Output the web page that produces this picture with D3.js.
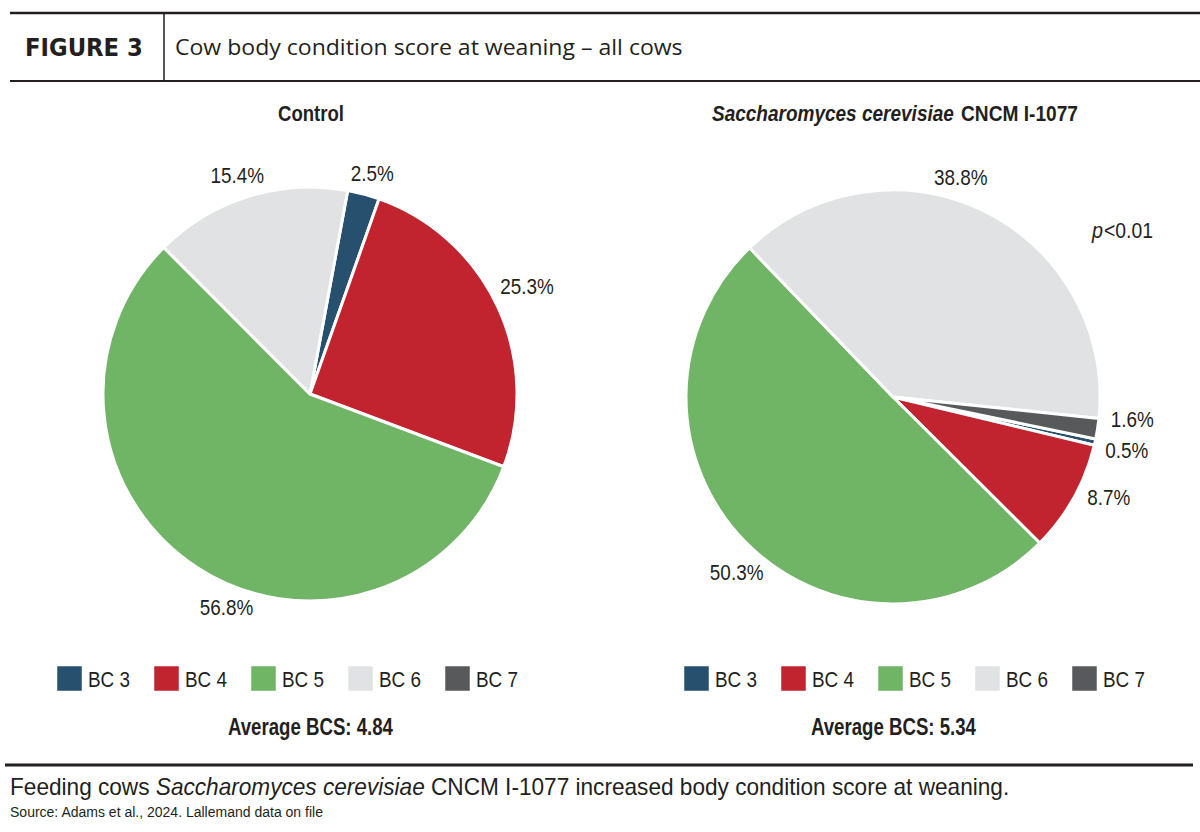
<!DOCTYPE html>
<meta charset="utf-8">
<style>
body { margin: 0; background: #fff; }
text { font-family: "Liberation Sans Narrow", "Arial Narrow", "Liberation Sans", sans-serif; fill: #231f20; }
.head { font-family: "DejaVu Sans Condensed", "DejaVu Sans", sans-serif; font-weight: bold; }
.sub { font-family: "Open Sans", sans-serif; }
</style>
<body>
<script src="https://d3js.org/d3.v7.min.js"></script>
<script>
// chart data
var categories = ["BC 3", "BC 4", "BC 5", "BC 6", "BC 7"];
var controlValues = [2.5, 25.3, 56.8, 15.4, 0];
var treatedValues = [0.5, 8.7, 50.3, 38.8, 1.6];
var averageBCS = ["4.84", "5.34"];

var colors = ["#26506e", "#c1232f", "#70b466", "#e1e2e4", "#58595b"];

var W = 1200, H = 832, r = 207;
var squeeze = 0.86; // fake a narrow face

var svg = d3.select("body").append("svg")
    .attr("width", W)
    .attr("height", H);

// put text at x,y squeezed horizontally (or fitted to a width)
function place(t, x, y, width) {
  var len = t.node().getComputedTextLength();
  var w = width || len * squeeze;
  t.attr("transform", "translate(" + x + "," + y + ") scale(" + (w / len) + ",1)");
  return w;
}

// header
svg.append("line").attr("x1", 10).attr("x2", W).attr("y1", 13).attr("y2", 13)
    .attr("stroke", "#231f20").attr("stroke-width", 2.5);
svg.append("line").attr("x1", 10).attr("x2", W).attr("y1", 81).attr("y2", 81)
    .attr("stroke", "#231f20").attr("stroke-width", 2);
svg.append("line").attr("x1", 164).attr("x2", 164).attr("y1", 13).attr("y2", 81)
    .attr("stroke", "#231f20").attr("stroke-width", 1.5);
place(svg.append("text").attr("class", "head")
    .attr("font-size", 25)
    .text("FIGURE 3"), 25, 56, 118);
place(svg.append("text").attr("class", "sub")
    .attr("font-size", 21)
    .text("Cow body condition score at weaning – all cows"), 175, 55, 508);

// panels (layout only)
var panels = [
  {values: controlValues, avg: averageBCS[0], cx: 310, cy: 394, start: 10.5, legendX: 57,
   nudge: [0, -3, -13, 0, 0]},
  {values: treatedValues, avg: averageBCS[1], cx: 893, cy: 397, start: 101.7, legendX: 684,
   nudge: [1, -3, -6, -10, -3]}
];

var rad = Math.PI / 180;

panels.forEach(function(p, pi) {
  var g = svg.append("g");

  var pie = d3.pie().sort(null).value(function(d) { return d; })
      .startAngle(p.start * rad).endAngle(p.start * rad + 2 * Math.PI);
  var arcs = pie(p.values);
  var arc = d3.arc().innerRadius(0).outerRadius(r);

  var pg = g.append("g").attr("transform", "translate(" + p.cx + "," + p.cy + ")");
  pg.selectAll("path")
    .data(arcs.filter(function(d) { return d.data > 0; }))
    .enter().append("path")
      .attr("d", arc)
      .attr("fill", function(d) { return colors[d.index]; })
      .attr("stroke", "#fff")
      .attr("stroke-width", 3)
      .attr("stroke-linejoin", "round");

  // percentage labels outside the pie
  arcs.forEach(function(d, i) {
    if (d.data <= 0) return;
    var a = (d.startAngle + d.endAngle) / 2 + p.nudge[i] * rad;
    var R = r + 12;
    var px = Math.sin(a) * R, py = -Math.cos(a) * R;
    var t = pg.append("text")
        .attr("font-size", 22)
        .text(d3.format(".1f")(d.data) + "%");
    var hw = t.node().getComputedTextLength() * squeeze / 2;
    place(t, px + Math.sin(a) * hw - hw, py - Math.cos(a) * 9 + 7);
  });

  // legend
  var lg = g.append("g").attr("transform", "translate(" + p.legendX + ",666)");
  var item = lg.selectAll("g").data(categories).enter().append("g")
      .attr("transform", function(d, i) { return "translate(" + (i * 97) + ",0)"; });
  item.append("rect").attr("width", 25).attr("height", 25)
      .attr("fill", function(d, i) { return colors[i]; })
      .attr("stroke", "#fff").attr("stroke-width", 0.5);
  item.append("text").attr("font-size", 22)
      .text(function(d) { return d; })
      .each(function() { place(d3.select(this), 31, 21); });

  // average
  place(g.append("text")
    .attr("font-size", 23).attr("font-weight", "bold")
    .text("Average BCS: " + p.avg), p.cx - 82, 735, 165);
});

// titles
place(svg.append("text")
  .attr("font-size", 22).attr("font-weight", "bold")
  .text("Control"), 278, 121, 66);
place(svg.append("text")
  .attr("font-size", 22).attr("font-weight", "bold").attr("font-style", "italic")
  .text("Saccharomyces cerevisiae"), 712, 121, 242);
place(svg.append("text")
  .attr("font-size", 22).attr("font-weight", "bold")
  .text("CNCM I-1077"), 961, 121, 117);

// significance
place(svg.append("text")
  .attr("font-size", 22).attr("font-style", "italic")
  .text("p"), 1092, 238, 11);
place(svg.append("text")
  .attr("font-size", 22)
  .text("<0.01"), 1104, 238, 49);

// footer
svg.append("line").attr("x1", 5).attr("x2", 1193).attr("y1", 765).attr("y2", 765)
    .attr("stroke", "#231f20").attr("stroke-width", 3);
var f = svg.append("text").attr("font-size", 23);
f.append("tspan").text("Feeding cows ");
f.append("tspan").attr("font-style", "italic").text("Saccharomyces cerevisiae");
f.append("tspan").text(" CNCM I-1077 increased body condition score at weaning.");
place(f, 10, 795, 1000);
place(svg.append("text").attr("font-size", 14)
  .text("Source: Adams et al., 2024. Lallemand data on file"), 10, 817, 313);
</script>
</body>
